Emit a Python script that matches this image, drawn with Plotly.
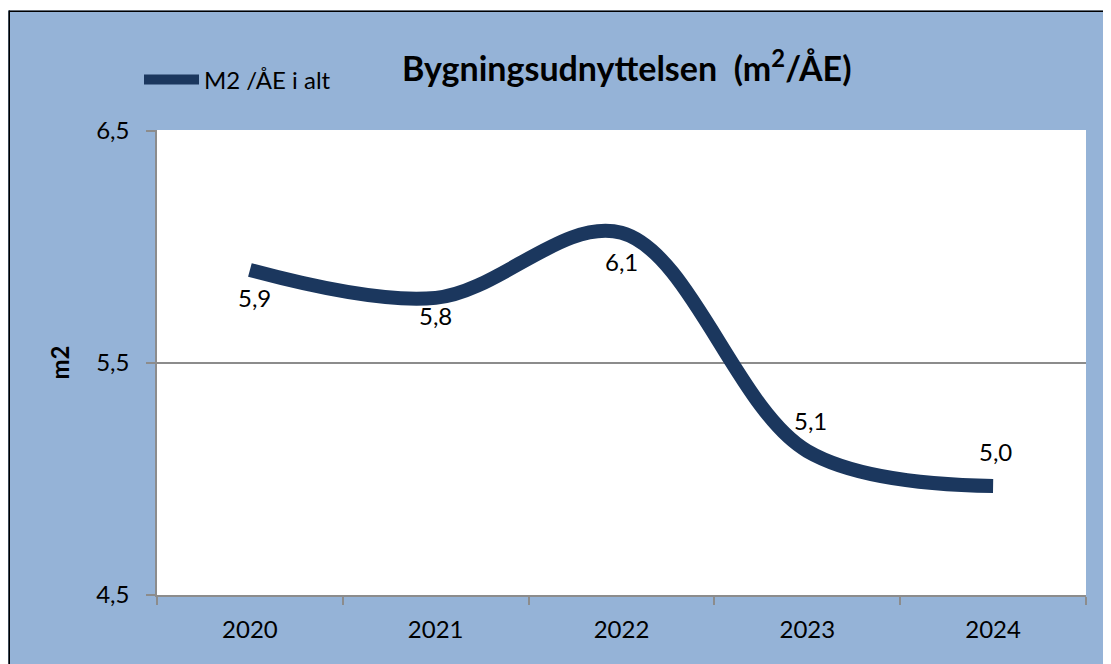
import plotly.graph_objects as go

# ---- data ----
years = ["2020", "2021", "2022", "2023", "2024"]
values = [5.90, 5.78, 6.06, 5.12, 4.97]
series_name = "M2 /ÅE i alt"
title_text = "Bygningsudnyttelsen  (m<sup>2</sup>/ÅE)"
y_title = "m2"
y_ticks = [4.5, 5.5, 6.5]

# ---- styles / layout helpers ----
FONT = "Lato"
BG = "#95B3D7"
LINE = "#1B375E"
GRID = "#8C8C8C"
W, H = 1111, 664
L, R, T, B = 149, 33, 122, 77          # figure-pixel margins
PW, PH = W - L - R, H - T - B

def px(x):  # figure px -> paper x
    return (x - L) / PW

def py(y):  # figure px -> paper y
    return (H - B - y) / PH

label_xshift = [5, 0, 0, 3, 2]
label_yshift = [-28, -18, -29, 31, 34]

fig = go.Figure()
fig.add_trace(go.Scatter(
    x=years, y=values, name=series_name, mode="lines",
    line=dict(color=LINE, width=14, shape="spline", smoothing=1.0),
    hoverinfo="x+y",
))

annotations = []
for i, (v, dx, dy) in enumerate(zip(values, label_xshift, label_yshift)):
    annotations.append(dict(
        x=i, y=v, xref="x", yref="y", text=f"{v:.1f}".replace(".", ","),
        showarrow=False, xshift=dx, yshift=dy,
        font=dict(family=FONT, size=24, color="black")))

annotations.append(dict(
    x=px(619), y=py(58), xref="paper", yref="paper", text=f"<b>{title_text}</b>",
    showarrow=False, xanchor="center", yanchor="middle",
    font=dict(family=FONT, size=34, color="black")))

fig.update_layout(
    width=W, height=H,
    margin=dict(l=L, r=R, t=T, b=B),
    paper_bgcolor=BG, plot_bgcolor="white",
    separators=",.",
    font=dict(family=FONT, size=24, color="black"),
    showlegend=True,
    legend=dict(x=px(131), y=py(72), xanchor="left", yanchor="middle",
                itemwidth=55,
                bgcolor="rgba(0,0,0,0)", font=dict(family=FONT, size=24, color="black")),
    annotations=annotations,
    shapes=[
        dict(type="rect", xref="paper", yref="paper", x0=px(-20), x1=px(W + 20),
             y0=py(-20), y1=py(2.5), fillcolor="white", line=dict(width=0), layer="above"),
        dict(type="line", xref="paper", yref="paper", x0=px(1), x1=px(W + 20),
             y0=py(3.2), y1=py(3.2), line=dict(color="black", width=1.6), layer="above"),
        dict(type="line", xref="paper", yref="paper", x0=px(1.2), x1=px(1.2),
             y0=py(2.5), y1=py(H + 20), line=dict(color="black", width=1.6), layer="above"),
    ],
    xaxis=dict(
        type="category", tickson="boundaries", ticks="outside", ticklen=8,
        tickcolor=GRID, tickwidth=1.5, showline=True, linecolor=GRID, linewidth=2,
        showgrid=False, tickfont=dict(family=FONT, size=24, color="black"),
        ticklabelstandoff=12, range=[-0.5, 4.5],
    ),
    yaxis=dict(
        range=[4.5, 6.503], tickvals=y_ticks, tickformat=".1f",
        ticks="outside", ticklen=9, tickcolor=GRID, tickwidth=1.5,
        showline=True, linecolor=GRID, linewidth=1.5,
        showgrid=True, gridcolor=GRID, gridwidth=1.5, zeroline=False,
        ticklabelstandoff=12,
        tickfont=dict(family=FONT, size=24, color="black"),
        title=dict(text=f"<b>{y_title}</b>", standoff=20,
                   font=dict(family=FONT, size=24, color="black")),
    ),
)

fig.write_html("out.html")
